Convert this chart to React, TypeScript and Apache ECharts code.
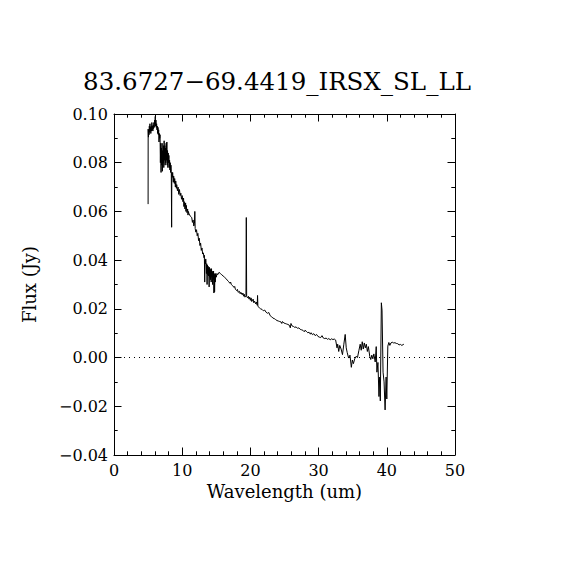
import React, { useEffect, useRef } from "react";
import * as echarts from "echarts";

const TITLE = "83.6727\u221269.4419_IRSX_SL_LL";
const X_NAME = "Wavelength (um)";
const Y_NAME = "Flux (Jy)";
const X_MIN = 0;
const X_MAX = 50;
const Y_MIN = -0.04;
const Y_MAX = 0.1;

const wavelength = [
  5.0, 5.01, 5.05, 5.1, 5.14, 5.18, 5.22, 5.27, 5.31, 5.36, 5.4, 5.45, 5.5, 5.55, 5.6, 5.65, 5.7, 5.75, 5.8, 5.85,
  5.9, 5.95, 6.0, 6.05, 6.1, 6.15, 6.2, 6.25, 6.3, 6.35, 6.4, 6.45, 6.5, 6.55, 6.6, 6.65, 6.7, 6.75, 6.8, 6.85,
  6.9, 6.95, 7.0, 7.05, 7.1, 7.15, 7.2, 7.25, 7.3, 7.35, 7.4, 7.45, 7.5, 7.55, 7.6, 7.65, 7.7, 7.75, 7.8, 7.85,
  7.9, 7.95, 8.0, 8.05, 8.1, 8.15, 8.2, 8.25, 8.3, 8.35, 8.4, 8.45, 8.48, 8.55, 8.6, 8.7, 8.75, 8.85, 8.9, 9.0,
  9.05, 9.15, 9.2, 9.3, 9.4, 9.5, 9.6, 9.7, 9.8, 9.9, 10.0, 10.1, 10.2, 10.25, 10.3, 10.4, 10.5, 10.55, 10.6, 10.7,
  10.8, 10.85, 10.9, 11.0, 11.2, 11.4, 11.5, 11.6, 11.7, 11.8, 11.85, 11.9, 12.0, 12.1, 12.2, 12.3, 12.4, 12.5, 12.6, 12.7,
  12.8, 12.9, 13.0, 13.1, 13.2, 13.25, 13.3, 13.35, 13.4, 13.45, 13.5, 13.55, 13.6, 13.65, 13.7, 13.75, 13.8, 13.85, 13.9, 13.95,
  14.0, 14.05, 14.1, 14.15, 14.2, 14.25, 14.3, 14.35, 14.4, 14.45, 14.5, 14.55, 14.6, 14.65, 14.7, 14.75, 14.8, 14.85, 14.9, 15.0,
  15.1, 15.2, 15.4, 15.6, 15.8, 16.0, 16.2, 16.4, 16.6, 16.8, 17.0, 17.1, 17.2, 17.4, 17.6, 17.7, 17.8, 18.0, 18.1, 18.2,
  18.4, 18.5, 18.6, 18.8, 18.9, 19.0, 19.1, 19.2, 19.35, 19.4, 19.45, 19.6, 19.7, 19.8, 19.9, 20.0, 20.1, 20.2, 20.4, 20.5,
  20.6, 20.8, 20.9, 21.0, 21.05, 21.1, 21.3, 21.5, 21.7, 21.9, 22.1, 22.3, 22.5, 22.7, 22.9, 23.1, 23.3, 23.5, 23.7, 23.9,
  24.1, 24.3, 24.5, 24.6, 24.7, 24.9, 25.1, 25.3, 25.5, 25.7, 25.85, 25.95, 26.1, 26.3, 26.5, 26.7, 26.9, 27.1, 27.3, 27.5,
  27.7, 27.9, 28.0, 28.2, 28.4, 28.6, 28.8, 28.9, 29.1, 29.3, 29.5, 29.7, 29.9, 30.1, 30.3, 30.5, 30.7, 30.9, 31.1, 31.3,
  31.5, 31.7, 31.9, 32.1, 32.3, 32.5, 32.7, 32.8, 32.95, 33.1, 33.3, 33.5, 33.7, 33.9, 34.05, 34.2, 34.4, 34.6, 34.8, 34.95,
  35.1, 35.3, 35.5, 35.7, 35.9, 36.1, 36.25, 36.4, 36.55, 36.7, 36.85, 37.0, 37.15, 37.3, 37.5, 37.65, 37.8, 37.95, 38.1, 38.3,
  38.45, 38.55, 38.7, 38.85, 38.95, 39.05, 39.2, 39.3, 39.45, 39.6, 39.75, 39.9, 40.0, 40.15, 40.3, 40.45, 40.6, 40.8, 41.0, 41.2,
  41.4, 41.6, 41.8, 42.0, 42.2, 42.5,
];

const flux = [
  0.063, 0.0938, 0.0905, 0.0935, 0.0915, 0.095, 0.0925, 0.096, 0.093, 0.0945, 0.092, 0.095, 0.093, 0.0965, 0.0935, 0.095, 0.093, 0.0955, 0.094, 0.0965,
  0.0945, 0.0975, 0.096, 0.099, 0.095, 0.0975, 0.0945, 0.096, 0.0935, 0.095, 0.092, 0.0945, 0.0915, 0.0935, 0.0885, 0.092, 0.09, 0.0915, 0.08, 0.088,
  0.076, 0.086, 0.079, 0.088, 0.0765, 0.085, 0.08, 0.087, 0.078, 0.089, 0.081, 0.087, 0.079, 0.086, 0.08, 0.088, 0.081, 0.0885, 0.079, 0.085,
  0.078, 0.084, 0.08, 0.083, 0.078, 0.081, 0.077, 0.08, 0.076, 0.079, 0.0765, 0.0535, 0.076, 0.074, 0.076, 0.072, 0.0745, 0.0715, 0.0735, 0.07,
  0.0725, 0.0695, 0.071, 0.0685, 0.07, 0.067, 0.069, 0.0665, 0.0675, 0.065, 0.0665, 0.064, 0.0655, 0.062, 0.064, 0.061, 0.0635, 0.06, 0.0625, 0.0595,
  0.061, 0.0585, 0.06, 0.059, 0.058, 0.0575, 0.0555, 0.0565, 0.054, 0.055, 0.06, 0.053, 0.0515, 0.0525, 0.05, 0.051, 0.048, 0.049, 0.046, 0.047,
  0.044, 0.045, 0.0425, 0.043, 0.041, 0.042, 0.031, 0.04, 0.0385, 0.0405, 0.039, 0.0345, 0.0385, 0.03, 0.038, 0.034, 0.0375, 0.0335, 0.037, 0.029,
  0.037, 0.033, 0.0365, 0.032, 0.036, 0.031, 0.0365, 0.033, 0.0355, 0.03, 0.035, 0.032, 0.0355, 0.0265, 0.0345, 0.027, 0.034, 0.031, 0.0345, 0.033,
  0.0345, 0.034, 0.035, 0.0345, 0.034, 0.0335, 0.033, 0.0325, 0.0318, 0.0312, 0.0305, 0.031, 0.03, 0.0295, 0.0288, 0.0292, 0.028, 0.0275, 0.028, 0.0268,
  0.0272, 0.0262, 0.0268, 0.0258, 0.0265, 0.0252, 0.026, 0.0248, 0.0255, 0.0575, 0.025, 0.0245, 0.0252, 0.024, 0.0248, 0.0235, 0.0245, 0.023, 0.024, 0.0225,
  0.0232, 0.022, 0.0228, 0.0215, 0.0255, 0.021, 0.0205, 0.02, 0.0198, 0.0192, 0.0195, 0.0186, 0.0182, 0.0185, 0.0172, 0.0168, 0.0162, 0.016, 0.0156, 0.0152,
  0.015, 0.0148, 0.0146, 0.014, 0.0148, 0.0142, 0.014, 0.0138, 0.0136, 0.0133, 0.0122, 0.014, 0.013, 0.0128, 0.0124, 0.0126, 0.012, 0.0122, 0.0116, 0.0114,
  0.0112, 0.0106, 0.0112, 0.0108, 0.0102, 0.0104, 0.0096, 0.0102, 0.0094, 0.0098, 0.009, 0.0095, 0.0087, 0.0084, 0.0082, 0.009, 0.008, 0.0078, 0.008, 0.0075,
  0.0078, 0.0073, 0.0077, 0.0074, 0.0076, 0.0072, 0.004, 0.0055, 0.0025, 0.005, 0.0035, 0.0012, 0.0055, 0.0095, 0.004, 0.002, -0.0002, 0.001, -0.004, -0.001,
  -0.0025, -0.0005, 0.0005, 0.0, 0.0028, 0.0055, 0.003, 0.0065, 0.0035, 0.006, 0.004, 0.0055, 0.0025, 0.0045, 0.0005, -0.0008, 0.001, -0.0005, 0.0015, -0.0018,
  0.0045, -0.006, -0.002, -0.016, -0.008, -0.0178, 0.0225, 0.0195, -0.006, -0.01, -0.0215, -0.008, -0.017, 0.0047, 0.0062, 0.005, 0.006, 0.0063, 0.006, 0.0061,
  0.0058, 0.0057, 0.0052, 0.0054, 0.005, 0.0055,
];

const FONT = "DejaVu Serif";

function fmtY(v: number): string {
  return v.toFixed(2).replace("-", "\u2212");
}

export default function App() {
  const ref = useRef<HTMLDivElement>(null);
  useEffect(() => {
    if (!ref.current) return;
    const chart = echarts.init(ref.current, undefined, { renderer: "svg" });
    const points = wavelength.map((w, i) => [w, flux[i]]);
    const tickCommon = {
      axisLine: { show: true, onZero: false, lineStyle: { color: "#000", width: 1 } },
      axisTick: { show: true, inside: true, length: 7.5, lineStyle: { color: "#000", width: 1 } },
      minorTick: { show: true, length: 3.7, lineStyle: { color: "#000", width: 1 } },
      splitLine: { show: false },
    };
    chart.setOption({
      animation: false,
      backgroundColor: "#fff",
      title: {
        text: TITLE,
        left: 272,
        top: 64,
        textAlign: "center",
        textStyle: { fontFamily: FONT, fontSize: 24.5, fontWeight: "normal", color: "#000" },
      },
      grid: { left: 114, right: 115, top: 114, bottom: 115 },
      xAxis: [
        {
          type: "value",
          min: X_MIN,
          max: X_MAX,
          interval: 10,
          position: "bottom",
          ...tickCommon,
          minorTick: { ...tickCommon.minorTick, splitNumber: 5 },
          axisLabel: { show: true, margin: 7, fontFamily: FONT, fontSize: 16, color: "#000" },
          name: X_NAME,
          nameLocation: "middle",
          nameGap: 26,
          nameTextStyle: { fontFamily: FONT, fontSize: 18, color: "#000" },
        },
        {
          type: "value",
          min: X_MIN,
          max: X_MAX,
          interval: 10,
          position: "top",
          ...tickCommon,
          minorTick: { ...tickCommon.minorTick, splitNumber: 5 },
          axisLabel: { show: false },
        },
      ],
      yAxis: [
        {
          type: "value",
          min: Y_MIN,
          max: Y_MAX,
          interval: 0.02,
          position: "left",
          ...tickCommon,
          minorTick: { ...tickCommon.minorTick, splitNumber: 2 },
          axisLabel: { show: true, margin: 6, fontFamily: FONT, fontSize: 16, color: "#000", formatter: fmtY },
          name: Y_NAME,
          nameLocation: "middle",
          nameGap: 76,
          nameRotate: 90,
          nameTextStyle: { fontFamily: FONT, fontSize: 18, color: "#000" },
        },
        {
          type: "value",
          min: Y_MIN,
          max: Y_MAX,
          interval: 0.02,
          position: "right",
          ...tickCommon,
          minorTick: { ...tickCommon.minorTick, splitNumber: 2 },
          axisLabel: { show: false },
        },
      ],
      series: [
        {
          type: "line",
          data: points,
          xAxisIndex: 0,
          yAxisIndex: 0,
          symbol: "none",
          lineStyle: { color: "#000", width: 1 },
          markLine: {
            silent: true,
            symbol: ["none", "none"],
            label: { show: false },
            lineStyle: { color: "#000", width: 1, type: [1, 4] },
            data: [{ yAxis: 0 }],
          },
        },
      ],
    });
    return () => chart.dispose();
  }, []);
  return (
    <div
      ref={ref}
      style={{ position: "fixed", left: 0, top: 0, width: 570, height: 570, background: "#fff" }}
    />
  );
}
